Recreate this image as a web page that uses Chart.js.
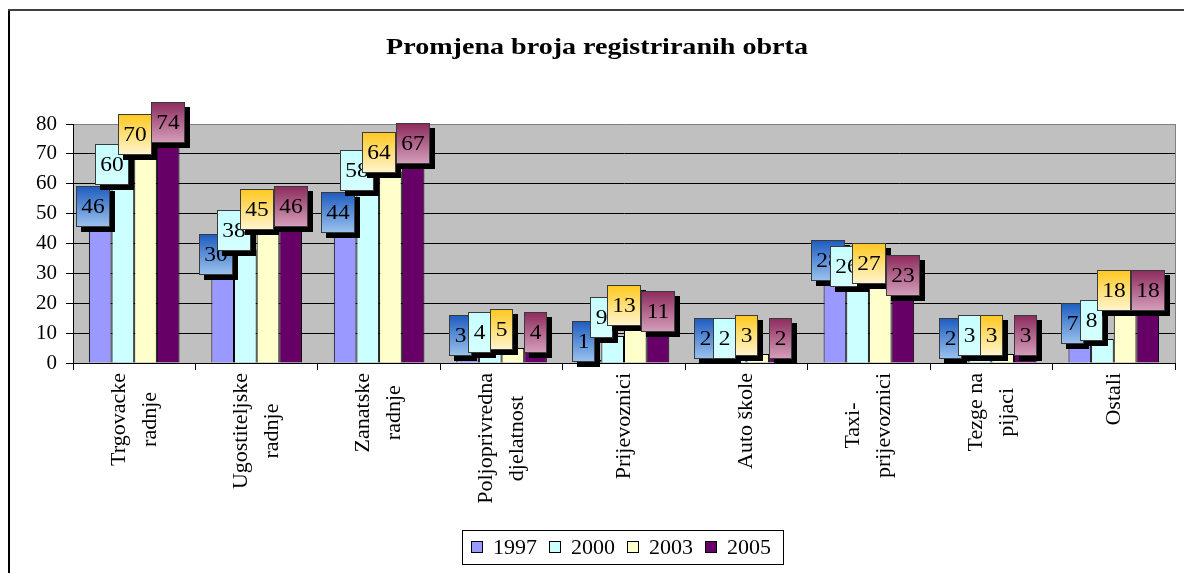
<!DOCTYPE html>
<html>
<head>
<meta charset="utf-8">
<title>Promjena broja registriranih obrta</title>
<script src="https://cdn.jsdelivr.net/npm/chart.js@4.4.1/dist/chart.umd.min.js"></script>
<style>
  html, body { margin: 0; padding: 0; background: #fff; }
  canvas { display: block; }
</style>
</head>
<body>
<canvas id="c" width="1184" height="573"></canvas>
<script>
/* Registered crafts by type, 1997-2005 (bar chart with boxed value labels). */
const categories = [
  ["Trgovacke", "radnje"], ["Ugostiteljske", "radnje"], ["Zanatske", "radnje"],
  ["Poljoprivredna", "djelatnost"], ["Prijevoznici"], ["Auto škole"],
  ["Taxi-", "prijevoznici"], ["Tezge na", "pijaci"], ["Ostali"]
];
const years = ["1997", "2000", "2003", "2005"];
const v1997 = [46, 30, 44, 3, 1, 2, 28, 2, 7];
const v2000 = [60, 38, 58, 4, 9, 2, 26, 3, 8];
const v2003 = [70, 45, 64, 5, 13, 3, 27, 3, 18];
const v2005 = [74, 46, 67, 4, 11, 2, 23, 3, 18];
const yMin = 0, yMax = 80, yStep = 10;
const title = "Promjena broja registriranih obrta";

const SERIF = '"Liberation Serif", "Times New Roman", serif';
const WIDE = 1.17; // the source renders its text a little wide
const barCol = ["#9999ff", "#ccffff", "#ffffcc", "#660066"];
const boxGrad = [["#1c5bbf", "#9cc3ee"], ["#c6ffff", "#d6ffff"], ["#ffc81e", "#fff6d2"], ["#8c2a5c", "#d6a0bc"]];
const boxShift = [-7, -11, -11, 0]; // label boxes sit a bit left of their bar

function wideText(ctx, txt, x, y, k) {
  ctx.save(); ctx.translate(x, y); ctx.scale(k || WIDE, 1); ctx.fillText(txt, 0, 0); ctx.restore();
}

const bgPlugin = {
  id: "plotBg",
  beforeDraw(chart) {
    const { ctx, chartArea: a } = chart;
    ctx.save();
    ctx.fillStyle = "#c0c0c0";
    ctx.fillRect(a.left, a.top, a.right - a.left, a.bottom - a.top);
    ctx.restore();
  },
  afterDatasetsDraw(chart) {
    const { ctx, chartArea: a } = chart;
    ctx.save();
    // right border of the plot area
    ctx.strokeStyle = "#808080"; ctx.lineWidth = 1;
    ctx.beginPath(); ctx.moveTo(Math.round(a.right) + 0.5, a.top); ctx.lineTo(Math.round(a.right) + 0.5, a.bottom); ctx.stroke();
    // boxed value labels
    ctx.font = "20px " + SERIF;
    ctx.textAlign = "center"; ctx.textBaseline = "middle";
    chart.data.datasets.forEach((ds, i) => {
      chart.getDatasetMeta(i).data.forEach((bar, j) => {
        const txt = String(ds.data[j]);
        const w = Math.round(ctx.measureText(txt).width * WIDE + 11), h = 41;
        const cx = bar.x + boxShift[i], cy = bar.y - 19;
        const x = Math.round(cx - w / 2), y = Math.round(cy - h / 2);
        ctx.fillStyle = "#000";
        ctx.fillRect(x + 5, y + 5, w, h);
        const g = ctx.createLinearGradient(0, y, 0, y + h);
        g.addColorStop(0, boxGrad[i][0]); g.addColorStop(1, boxGrad[i][1]);
        ctx.fillStyle = g;
        ctx.fillRect(x, y, w, h);
        ctx.strokeStyle = "#3a3a3a";
        ctx.strokeRect(x + 0.5, y + 0.5, w - 1, h - 1);
        ctx.fillStyle = "#000";
        wideText(ctx, txt, x + w / 2, y + h / 2 + 1);
      });
    });
    ctx.restore();
  },
  afterDraw(chart) {
    const ctx = chart.ctx, xs = chart.scales.x;
    ctx.save();
    // outer frame (left + top edges visible)
    ctx.fillStyle = "#000"; ctx.fillRect(8, 10, 2, 563);
    ctx.fillStyle = "#404040"; ctx.fillRect(8, 9, 1176, 2);
    // title
    ctx.fillStyle = "#000";
    ctx.font = "bold 24px " + SERIF;
    ctx.textAlign = "center"; ctx.textBaseline = "middle";
    wideText(ctx, title, 597, 48);
    // rotated category labels, lines centred in their block
    ctx.font = "22px " + SERIF;
    categories.forEach((lines, i) => {
      const cx = xs.getPixelForValue(i);
      const maxW = Math.max(...lines.map((l) => ctx.measureText(l).width));
      const cy = xs.top + 10 + maxW / 2;
      lines.forEach((l, k) => {
        const off = (k - (lines.length - 1) / 2) * 31;
        ctx.save(); ctx.translate(cx + off, cy); ctx.rotate(-Math.PI / 2);
        ctx.fillText(l, 0, 0);
        ctx.restore();
      });
    });
    // legend box
    ctx.strokeStyle = "#000"; ctx.lineWidth = 1;
    ctx.strokeRect(462.5, 530.5, 321, 34);
    ctx.font = "22px " + SERIF;
    ctx.textAlign = "left";
    let lx = 471;
    chart.data.datasets.forEach((ds) => {
      ctx.fillStyle = ds.backgroundColor;
      ctx.fillRect(lx, 541, 12, 12);
      ctx.strokeStyle = "#000";
      ctx.strokeRect(lx + 0.5, 541.5, 11, 11);
      ctx.fillStyle = "#000";
      ctx.fillText(ds.label, lx + 22, 548);
      lx += 22 + ctx.measureText(ds.label).width + 12;
    });
    ctx.restore();
  }
};

const series = [v1997, v2000, v2003, v2005];
new Chart(document.getElementById("c"), {
  type: "bar",
  data: {
    labels: categories,
    datasets: series.map((d, i) => ({
      label: years[i], data: d, backgroundColor: barCol[i],
      borderColor: "#000", borderWidth: 1, barPercentage: 1, categoryPercentage: 0.74
    }))
  },
  options: {
    responsive: false, animation: false,
    layout: { padding: { top: 124, left: 10, right: 9, bottom: 0 } },
    plugins: { legend: { display: false }, tooltip: { enabled: false } },
    scales: {
      x: {
        offset: true,
        grid: { offset: true, drawOnChartArea: false, drawTicks: true, tickLength: 7, color: "#000" },
        border: { display: true, color: "#000", width: 1 },
        ticks: { display: false },
        afterFit: (s) => { s.height = 210; }
      },
      y: {
        min: yMin, max: yMax,
        grid: { color: (c) => (c.tick && c.tick.value === yMax ? "#808080" : "#000"), tickColor: "#000", tickLength: 7, lineWidth: 1 },
        border: { display: true, color: "#000", width: 1 },
        ticks: { stepSize: yStep, color: "#000", padding: 9, font: { family: SERIF, size: 21 } },
        afterFit: (s) => { s.width = 63; }
      }
    }
  },
  plugins: [bgPlugin]
});
</script>
</body>
</html>
